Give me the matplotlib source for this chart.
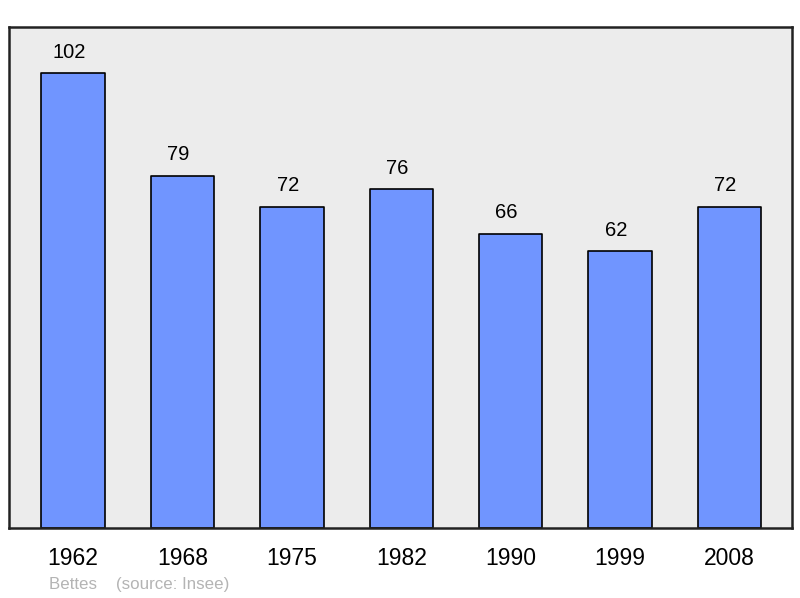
import matplotlib
matplotlib.use("Agg")
import matplotlib.pyplot as plt
import numpy as np

plt.rcParams['font.family'] = ['Liberation Sans', 'DejaVu Sans']

# population per census year
years = ["1962", "1968", "1975", "1982", "1990", "1999", "2008"]
population = [102, 79, 72, 76, 66, 62, 72]

fig = plt.figure(figsize=(8, 5.98), dpi=100)
ax = fig.add_axes([9 / 800, 70 / 598, 783 / 800, 501 / 598])
ax.set_facecolor('#ececec')

x = np.arange(len(years))
ax.bar(x, population, width=0.58, color='#7095ff', edgecolor='black',
       linewidth=1.2, joinstyle='round', zorder=2)

for xi, v in zip(x, population):
    ax.annotate(str(v), (xi, v), xytext=(-3, 15), textcoords='offset points',
                ha='center', va='center', fontsize=14.5)

ax.set_xlim(-0.585, 6.57)
ax.set_ylim(0, 112.3)
ax.set_xticks(x)
ax.set_xticklabels(years, fontsize=16.5)
ax.tick_params(axis='x', length=0, pad=14)
ax.set_yticks([])
for s in ax.spines.values():
    s.set_linewidth(1.8)
    s.set_color('#222222')

fig.text(49 / 800, 1 - 584 / 598, "Bettes    (source: Insee)", fontsize=12.2,
         color='#b4b4b4', ha='left', va='center')

fig.savefig("out.png", dpi=100)
